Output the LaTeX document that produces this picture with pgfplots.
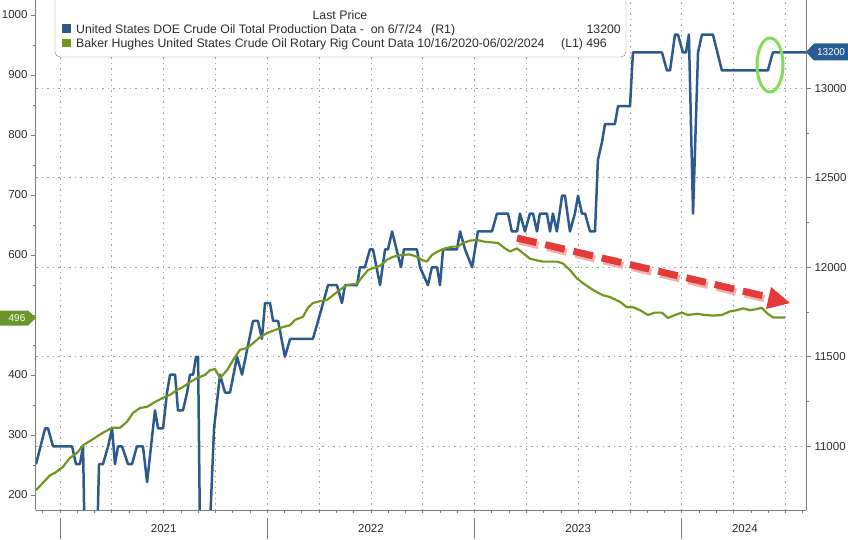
\documentclass[border=0pt]{standalone}
\usepackage{pgfplots}
\pgfplotsset{compat=1.18}
\usepackage{fontspec}
\setmainfont{Liberation Sans}

\definecolor{prodblue}{RGB}{44,90,140}
\definecolor{riggreen}{RGB}{116,150,30}
\definecolor{badgegreen}{RGB}{104,150,40}
\definecolor{badgeblue}{RGB}{40,92,150}
\definecolor{axisgray}{RGB}{125,125,125}
\definecolor{labelgray}{RGB}{45,45,45}
\definecolor{gridgray}{RGB}{165,165,165}
\definecolor{arrowred}{RGB}{228,58,58}
\definecolor{arrowshade}{RGB}{245,175,175}
\definecolor{ringgreen}{RGB}{130,220,90}

\begin{document}
\begin{tikzpicture}
\useasboundingbox (-36pt,-29pt) rectangle (812pt,510pt);

\pgfplotsset{
  chartbase/.style={
    at={(0pt,0pt)}, anchor=south west, scale only axis,
    width=770pt, height=510pt,
    xmin=2020.884, xmax=2024.599,
    tick align=outside,
    major tick length=5pt, minor tick length=3pt,
    every tick/.style={draw=axisgray, line width=0.8pt},
    axis line style={draw=axisgray, line width=1pt},
    ticklabel style={font=\fontsize{11.5}{13}\selectfont, text=labelgray},
    scaled y ticks=false,
    /pgf/number format/assume math mode=true,
    /pgf/number format/1000 sep={},
  }
}

% right axis: DOE crude production (R1)
\begin{axis}[chartbase,
  axis y line*=right, axis x line*=bottom,
  ymin=10644, ymax=13493,
  ytick={11000,11500,12000,12500,13000}, minor y tick num=1,
  xtick={2021,2021.25,2021.5,2021.75,2022,2022.25,2022.5,2022.75,2023,2023.25,2023.5,2023.75,2024,2024.25,2024.5},
  xticklabels={}, major x tick style={draw=none},
  xmajorgrids, ymajorgrids,
  grid style={draw=gridgray, line width=0.9pt, dash pattern=on 1.5pt off 4pt},
]
\addplot[prodblue, line width=2.5pt, line join=round] coordinates {
(2020.884,10900)(2020.928,11100)(2020.942,11100)(2020.966,11000)(2021.058,11000)(2021.077,10900)(2021.096,10900)(2021.111,11000)(2021.130,9700)(2021.169,10000)(2021.188,10900)(2021.207,10900)(2021.232,11000)(2021.251,11100)(2021.265,10900)(2021.280,11000)(2021.299,11000)(2021.328,10900)(2021.347,10900)(2021.371,11000)(2021.400,11000)(2021.420,10800)(2021.458,11200)(2021.473,11100)(2021.497,11100)(2021.516,11300)(2021.531,11400)(2021.555,11400)(2021.569,11200)(2021.593,11200)(2021.613,11300)(2021.627,11400)(2021.642,11400)(2021.656,11500)(2021.666,11500)(2021.680,10000)(2021.699,10100)(2021.714,10300)(2021.743,11100)(2021.772,11400)(2021.796,11300)(2021.820,11300)(2021.854,11500)(2021.878,11400)(2021.931,11700)(2021.955,11700)(2021.974,11600)(2021.989,11800)(2022.013,11800)(2022.028,11700)(2022.052,11700)(2022.085,11500)(2022.110,11600)(2022.220,11600)(2022.245,11700)(2022.269,11800)(2022.293,11900)(2022.336,11900)(2022.360,11800)(2022.375,11900)(2022.433,11900)(2022.447,12000)(2022.471,12000)(2022.495,12100)(2022.510,12100)(2022.544,11900)(2022.568,12100)(2022.582,12100)(2022.602,12200)(2022.645,12000)(2022.659,12100)(2022.722,12100)(2022.737,12000)(2022.775,11900)(2022.794,12000)(2022.819,12000)(2022.833,11900)(2022.848,12100)(2022.915,12100)(2022.930,12200)(2022.954,12100)(2022.988,12000)(2023.016,12200)(2023.084,12200)(2023.108,12300)(2023.161,12300)(2023.180,12200)(2023.205,12200)(2023.219,12300)(2023.243,12200)(2023.267,12300)(2023.282,12300)(2023.301,12200)(2023.315,12300)(2023.349,12300)(2023.364,12200)(2023.378,12300)(2023.397,12200)(2023.422,12400)(2023.436,12400)(2023.460,12200)(2023.484,12300)(2023.499,12400)(2023.518,12300)(2023.533,12300)(2023.557,12200)(2023.581,12200)(2023.595,12600)(2023.615,12700)(2023.629,12800)(2023.677,12800)(2023.692,12900)(2023.750,12900)(2023.764,13200)(2023.904,13200)(2023.928,13100)(2023.943,13100)(2023.967,13300)(2023.981,13300)(2024.005,13200)(2024.020,13200)(2024.034,13300)(2024.054,12300)(2024.078,13200)(2024.097,13300)(2024.150,13300)(2024.193,13100)(2024.415,13100)(2024.439,13200)(2024.599,13200)
};
\end{axis}

% left axis: Baker Hughes oil rig count (L1)
\begin{axis}[chartbase,
  axis y line*=left, axis x line*=bottom,
  ymin=175, ymax=1025,
  ytick={200,300,400,500,600,700,800,900,1000},
  yticklabels={200,300,400,,600,700,800,900,1000},
  minor y tick num=1,
  xtick={2021.5,2022.5,2023.5,2024.304}, xticklabels={2021,2022,2023,2024},
  major x tick style={draw=none},
  minor xtick={2020.91667,2021,2021.08333,...,2024.6},
  xticklabel style={yshift=-6pt},
  clip mode=individual,
]
\addplot[riggreen, line width=2.2pt, line join=round] coordinates {
(2020.884,208)(2020.952,233)(2020.976,237)(2021.014,247)(2021.048,262)(2021.082,270)(2021.111,283)(2021.154,292)(2021.203,303)(2021.251,312)(2021.289,312)(2021.323,322)(2021.352,337)(2021.386,345)(2021.420,347)(2021.458,355)(2021.497,362)(2021.531,367)(2021.564,375)(2021.593,380)(2021.627,388)(2021.661,395)(2021.699,400)(2021.724,408)(2021.748,410)(2021.772,395)(2021.806,408)(2021.835,425)(2021.868,442)(2021.902,445)(2021.931,453)(2021.965,463)(2021.999,470)(2022.037,475)(2022.076,480)(2022.110,483)(2022.134,492)(2022.172,497)(2022.196,512)(2022.220,520)(2022.254,523)(2022.288,525)(2022.317,533)(2022.351,542)(2022.384,550)(2022.433,552)(2022.457,563)(2022.486,575)(2022.510,578)(2022.544,582)(2022.577,592)(2022.606,597)(2022.650,600)(2022.688,601)(2022.722,597)(2022.746,592)(2022.770,589)(2022.794,600)(2022.823,606)(2022.857,611)(2022.896,614)(2022.920,614)(2022.944,620)(2022.978,624)(2023.012,625)(2023.050,622)(2023.084,621)(2023.113,620)(2023.147,611)(2023.171,606)(2023.205,611)(2023.234,603)(2023.267,594)(2023.301,591)(2023.330,589)(2023.364,589)(2023.397,589)(2023.426,586)(2023.460,575)(2023.494,561)(2023.523,553)(2023.557,545)(2023.590,538)(2023.619,533)(2023.653,530)(2023.701,522)(2023.735,513)(2023.764,513)(2023.798,508)(2023.836,500)(2023.870,504)(2023.904,504)(2023.933,495)(2023.967,500)(2024.000,504)(2024.029,500)(2024.073,502)(2024.112,500)(2024.150,499)(2024.193,500)(2024.232,506)(2024.266,508)(2024.295,511)(2024.329,508)(2024.362,510)(2024.386,512)(2024.411,503)(2024.439,496)(2024.497,496)
};
% year separators below the axis
\draw[axisgray, line width=0.8pt] (axis cs:2021,175) ++(0pt,-8pt) -- ++(0pt,-21pt);
\draw[axisgray, line width=0.8pt] (axis cs:2022,175) ++(0pt,-8pt) -- ++(0pt,-21pt);
\draw[axisgray, line width=0.8pt] (axis cs:2023,175) ++(0pt,-8pt) -- ++(0pt,-21pt);
\draw[axisgray, line width=0.8pt] (axis cs:2024,175) ++(0pt,-8pt) -- ++(0pt,-21pt);
\end{axis}

% annotations, legend and value badges (pixel grid of the picture)
\begin{scope}[x=1pt, y=-1pt, shift={(-36pt,510pt)}]
  % red trend arrow
  \draw[arrowshade, line width=7pt, dash pattern=on 20pt off 9pt] (519,241) -- (770,300);
  \draw[arrowred, line width=7pt, dash pattern=on 20pt off 9pt] (517,238) -- (768,297);
  \fill[arrowred] (790,303) -- (766,309) -- (771,287) -- cycle;
  % highlight ring
  \draw[ringgreen, line width=3pt] (770,65) ellipse [x radius=13, y radius=27];
  % legend
  \draw[axisgray, fill=white, rounded corners=5pt] (55,-12) rectangle (626,57);
  \begin{scope}[every node/.style={inner sep=0pt, text=labelgray, font=\fontsize{12.3}{14}\selectfont}]
    \node[anchor=base] at (340,19.5) {Last Price};
    \fill[prodblue] (62,24.5) rectangle (71,33);
    \fill[riggreen] (62,39) rectangle (71,47.5);
    \node[anchor=base west] at (76,33.5) {United States DOE Crude Oil Total Production Data -\ \ on 6/7/24};
    \node[anchor=base west] at (431,33.5) {(R1)};
    \node[anchor=base east] at (621,33.5) {13200};
    \node[anchor=base west] at (76,48) {Baker Hughes United States Crude Oil Rotary Rig Count Data 10/16/2020-06/02/2024};
    \node[anchor=base west] at (561,48) {(L1)};
    \node[anchor=base east] at (607,48) {496};
  \end{scope}
  % last value badges
  \fill[badgegreen] (0,310.5) -- (28,310.5) -- (36,318) -- (28,325.5) -- (0,325.5) -- cycle;
  \node[text=white, inner sep=0pt, font=\fontsize{10}{12}\selectfont] at (17,318) {496};
  \fill[badgeblue] (806,52) -- (814,43.5) -- (848,43.5) -- (848,60.5) -- (814,60.5) -- cycle;
  \node[text=white, inner sep=0pt, font=\fontsize{10}{12}\selectfont] at (831,52) {13200};
\end{scope}
\end{tikzpicture}
\end{document}
